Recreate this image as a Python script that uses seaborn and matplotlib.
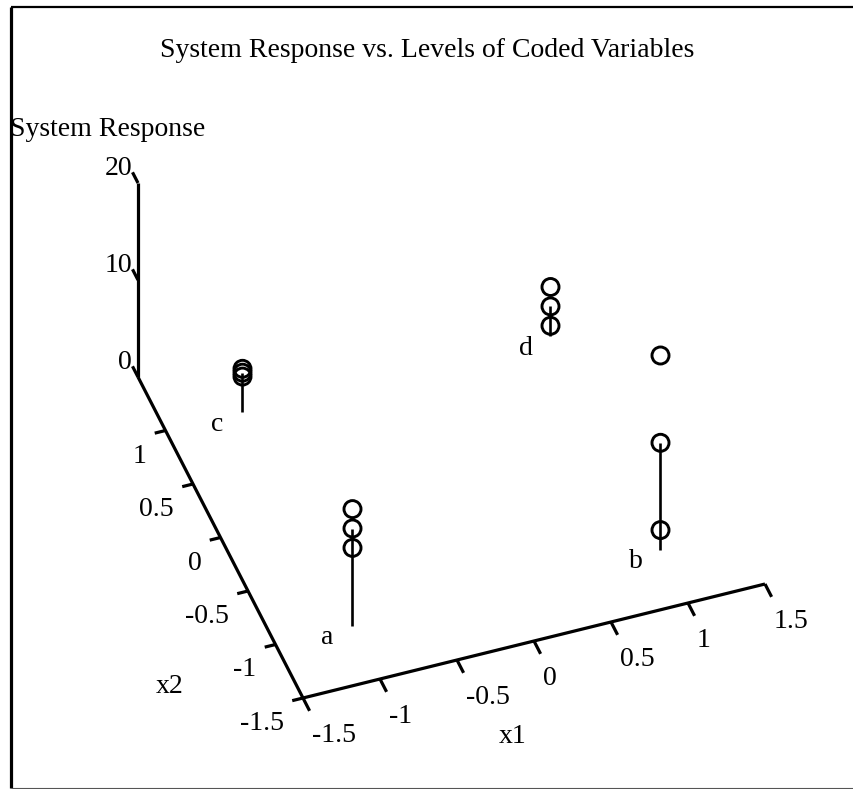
import numpy as np
import pandas as pd
import matplotlib
matplotlib.use("Agg")
import matplotlib.pyplot as plt
import seaborn as sns

# 2^2 factorial design: coded factor levels for runs a-d
runs = ["a", "b", "c", "d"]
x1_level = [-1, 1, -1, 1]
x2_level = [-1, -1, 1, 1]
# three replicate system responses for each run
rep1 = [8, 2, 3.6, 1]
rep2 = [10, 11, 4.0, 3]
rep3 = [12, 20, 4.4, 5]

x1_ticks = [-1.5, -1, -0.5, 0, 0.5, 1, 1.5]
x1_ticklabels = ["-1.5", "-1", "-0.5", "0", "0.5", "1", "1.5"]
x2_ticks = [-1.5, -1, -0.5, 0, 0.5, 1]
x2_ticklabels = ["-1.5", "-1", "-0.5", "0", "0.5", "1"]
z_ticks = [0, 10, 20]
z_ticklabels = ["0", "10", "20"]
x1_range = (-1.5, 1.5)
x2_range = (-1.5, 1.5)
z_range = (0, 20)

title = "System Response vs. Levels of Coded Variables"

sns.set_theme(style="white")
plt.rcParams["font.family"] = ["Liberation Serif", "DejaVu Serif"]
plt.rcParams["text.color"] = "black"
FS = 20

W, H = 854, 789
fig = plt.figure(figsize=(W / 100, H / 100), dpi=100)
ax = fig.add_axes([0, 0, 1, 1])

# oblique projection of (x1, x2, response) onto the page
ORIGIN = np.array([303.0, 698.0])
E1 = np.array([154.0, -38.0])    # one unit of x1
E2 = np.array([-55.0, -107.0])   # one unit of x2
E3 = np.array([0.0, -9.7])       # one unit of response


def project(x1, x2, z):
    x1, x2, z = np.broadcast_arrays(np.asarray(x1, float),
                                    np.asarray(x2, float),
                                    np.asarray(z, float))
    u = x1 - x1_range[0]
    v = x2 - x2_range[0]
    px = ORIGIN[0] + u * E1[0] + v * E2[0] + z * E3[0]
    py = ORIGIN[1] + u * E1[1] + v * E2[1] + z * E3[1]
    return px, py


AX_LW = 2.3
INK = "black"

# axis lines
ax.plot(*project(x1_range, x2_range[0], 0), color=INK, lw=AX_LW, solid_capstyle="butt")
ax.plot(*project(x1_range[0], x2_range, 0), color=INK, lw=AX_LW, solid_capstyle="butt")
ax.plot(*project(x1_range[0], x2_range[1], z_range), color=INK, lw=AX_LW, solid_capstyle="butt")

# x1 ticks and labels
for t, lab in zip(x1_ticks, x1_ticklabels):
    px, py = project([t, t], [x2_range[0], x2_range[0] - 0.12], 0)
    ax.plot(px, py, color=INK, lw=AX_LW, solid_capstyle="butt")
    ax.text(px[0] + 9, py[0] + 44, lab, fontsize=FS, ha="left", va="baseline")

# x2 ticks and labels
for t, lab in zip(x2_ticks, x2_ticklabels):
    px, py = project([x1_range[0], x1_range[0] - 0.07], [t, t], 0)
    ax.plot(px, py, color=INK, lw=AX_LW, solid_capstyle="butt")
    ax.text(px[0] - 19, py[0] + 32, lab, fontsize=FS, ha="right", va="baseline")

# response ticks and labels
for t, lab in zip(z_ticks, z_ticklabels):
    px, py = project(x1_range[0], [x2_range[1], x2_range[1] + 0.1], [t, t])
    ax.plot(px, py, color=INK, lw=AX_LW, solid_capstyle="butt")
    ax.text(px[0] - 6, py[0] - 8, lab, fontsize=FS, ha="right", va="baseline")

# long-form table of observations
obs = pd.DataFrame({
    "run": np.repeat(runs, 3),
    "x1": np.repeat(x1_level, 3),
    "x2": np.repeat(x2_level, 3),
    "response": np.column_stack([rep1, rep2, rep3]).ravel(),
})
obs["px"], obs["py"] = project(obs["x1"], obs["x2"], obs["response"])

# drop line from the floor to each run's mean response
means = obs.groupby("run", sort=False)["response"].mean()
for r, x1v, x2v in zip(runs, x1_level, x2_level):
    px, py = project(x1v, x2v, [0, means[r]])
    ax.plot(px, py, color=INK, lw=1.9, solid_capstyle="butt", zorder=2)
    bx, by = project(x1v, x2v, 0)
    ax.text(bx - 25, by + 19, r, fontsize=FS, ha="center", va="baseline")

sns.scatterplot(data=obs, x="px", y="py", ax=ax, marker="o", s=150,
                facecolor="none", edgecolor=INK, linewidth=2.1,
                legend=False, zorder=3)

# titles
ax.text(427, 57, title, fontsize=FS, ha="center", va="baseline")
ax.text(10, 136, "System Response", fontsize=FS, ha="left", va="baseline")
ax.text(513, 743, "x1", fontsize=FS, ha="center", va="baseline")
ax.text(170, 693, "x2", fontsize=FS, ha="center", va="baseline")

# page frame
ax.plot([11, 11], [7, 788], color=INK, lw=2.3, solid_capstyle="butt")
ax.plot([11, 854], [7, 7], color=INK, lw=1.6, solid_capstyle="butt")
ax.plot([11, 854], [787.5, 787.5], color="#555555", lw=0.8, solid_capstyle="butt")

ax.set_xlim(0, W)
ax.set_ylim(H, 0)
ax.set_axis_off()

fig.savefig("out.png", dpi=100)
